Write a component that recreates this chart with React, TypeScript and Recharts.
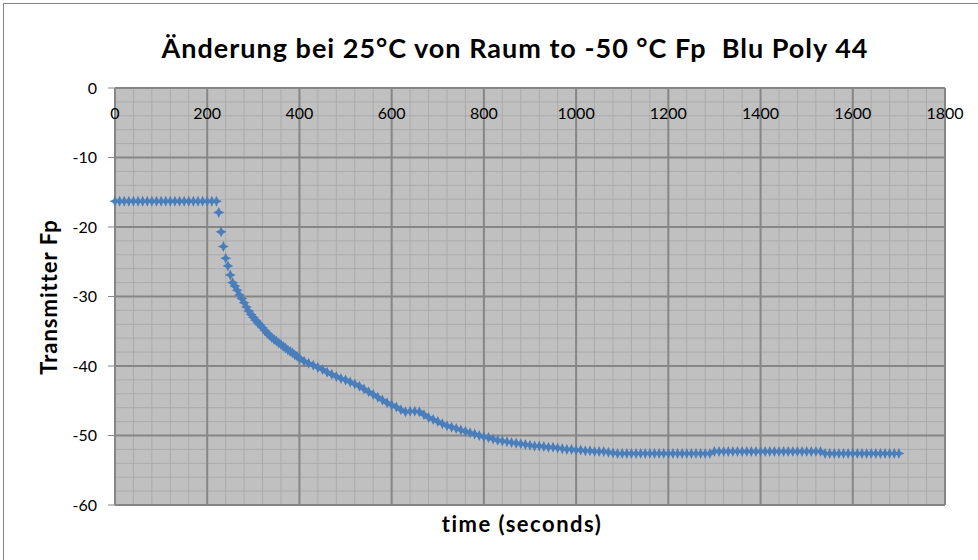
import {
  CartesianGrid,
  ReferenceLine,
  Scatter,
  ScatterChart,
  XAxis,
  YAxis,
} from 'recharts'

// tiempos (s) y lectura del transmisor
const times = [
  0, 10, 20, 30, 40, 50, 60, 70, 80, 90, 100, 110, 120, 130, 140, 150, 160,
  170, 180, 190, 200, 210, 220, 225, 230, 235, 240, 245, 250, 255, 260, 265,
  270, 275, 280, 285, 290, 295, 300, 305, 310, 315, 320, 325, 330, 335, 340,
  345, 350, 355, 360, 365, 370, 375, 380, 385, 390, 395, 400, 410, 420, 430,
  440, 450, 460, 470, 480, 490, 500, 510, 520, 530, 540, 550, 560, 570, 580,
  590, 600, 610, 620, 630, 640, 650, 660, 670, 680, 690, 700, 710, 720, 730,
  740, 750, 760, 770, 780, 790, 800, 810, 820, 830, 840, 850, 860, 870, 880,
  890, 900, 910, 920, 930, 940, 950, 960, 970, 980, 990, 1000, 1010, 1020,
  1030, 1040, 1050, 1060, 1070, 1080, 1090, 1100, 1110, 1120, 1130, 1140,
  1150, 1160, 1170, 1180, 1190, 1200, 1210, 1220, 1230, 1240, 1250, 1260,
  1270, 1280, 1290, 1300, 1310, 1320, 1330, 1340, 1350, 1360, 1370, 1380,
  1390, 1400, 1410, 1420, 1430, 1440, 1450, 1460, 1470, 1480, 1490, 1500,
  1510, 1520, 1530, 1540, 1550, 1560, 1570, 1580, 1590, 1600, 1610, 1620,
  1630, 1640, 1650, 1660, 1670, 1680, 1690, 1700,
]

const fp = [
  -16.3, -16.3, -16.3, -16.3, -16.3, -16.3, -16.3, -16.3, -16.3, -16.3, -16.3,
  -16.3, -16.3, -16.3, -16.3, -16.3, -16.3, -16.3, -16.3, -16.3, -16.3, -16.3,
  -16.3, -17.9, -20.7, -22.8, -24.5, -25.6, -26.9, -28.0, -28.5, -29.1, -29.8,
  -30.3, -30.9, -31.5, -32.1, -32.6, -33.0, -33.4, -33.8, -34.1, -34.5, -34.9,
  -35.3, -35.6, -35.9, -36.2, -36.4, -36.7, -36.9, -37.2, -37.4, -37.7, -37.9,
  -38.1, -38.4, -38.6, -38.9, -39.3, -39.6, -39.9, -40.2, -40.5, -40.9, -41.2,
  -41.5, -41.8, -42.0, -42.3, -42.6, -42.9, -43.3, -43.7, -44.1, -44.5, -44.9,
  -45.3, -45.6, -45.9, -46.3, -46.6, -46.5, -46.5, -46.6, -47.0, -47.4, -47.7,
  -48.0, -48.3, -48.6, -48.8, -49.0, -49.2, -49.4, -49.6, -49.8, -50.0, -50.2,
  -50.3, -50.5, -50.7, -50.8, -50.9, -51.0, -51.1, -51.2, -51.3, -51.4, -51.5,
  -51.5, -51.6, -51.7, -51.7, -51.8, -51.9, -52.0, -52.0, -52.1, -52.1, -52.2,
  -52.2, -52.3, -52.3, -52.3, -52.4, -52.5, -52.6, -52.6, -52.6, -52.6, -52.6,
  -52.6, -52.6, -52.6, -52.6, -52.6, -52.6, -52.6, -52.6, -52.6, -52.6, -52.6,
  -52.6, -52.6, -52.6, -52.6, -52.6, -52.3, -52.3, -52.3, -52.3, -52.3, -52.3,
  -52.3, -52.3, -52.3, -52.3, -52.3, -52.3, -52.3, -52.3, -52.3, -52.3, -52.3,
  -52.3, -52.3, -52.3, -52.3, -52.3, -52.3, -52.3, -52.6, -52.6, -52.6, -52.6,
  -52.6, -52.6, -52.6, -52.6, -52.6, -52.6, -52.6, -52.6, -52.6, -52.6, -52.6,
  -52.6, -52.6,
]

const xTicks = [0, 200, 400, 600, 800, 1000, 1200, 1400, 1600, 1800]
const yTicks = [0, -10, -20, -30, -40, -50, -60]
// rejilla secundaria (cada 40 s / cada 2 unidades), sin las principales
const xMinor = Array.from({ length: 46 }, (_, i) => i * 40).filter((v) => v % 200 !== 0)
const yMinor = Array.from({ length: 31 }, (_, i) => -i * 2).filter((v) => v % 10 !== 0)

const data = times.map((t, i) => ({ t, v: fp[i] }))

const FONT = 'Lato, "Open Sans", sans-serif'
const BLUE = '#4A7EBB'
const MINOR = '#ABABAB'

const Star = (p: any) => {
  const { cx, cy } = p
  const a = 5.5
  const b = 1.8
  return (
    <path
      d={`M${cx - a},${cy} L${cx - b},${cy - b} L${cx},${cy - a} L${cx + b},${cy - b} L${cx + a},${cy} L${cx + b},${cy + b} L${cx},${cy + a} L${cx - b},${cy + b} Z`}
      fill={BLUE}
    />
  )
}

export default function App() {
  return (
    <div
      style={{
        position: 'fixed',
        left: 0,
        top: 0,
        width: 978,
        height: 560,
        overflow: 'hidden',
        background: '#fff',
        fontFamily: FONT,
      }}
    >
      <div
        style={{
          position: 'absolute',
          left: 3,
          top: 3,
          width: 1100,
          height: 700,
          border: '1px solid #868686',
        }}
      />
      <div
        style={{
          position: 'absolute',
          left: 0,
          width: 1030,
          top: 31,
          textAlign: 'center',
          fontSize: 27,
          letterSpacing: 1,
          fontWeight: 700,
          whiteSpace: 'pre',
          color: '#000',
        }}
      >
        {'Änderung bei 25°C von Raum to -50 °C Fp  Blu Poly 44'}
      </div>
      <div
        style={{
          position: 'absolute',
          left: 48,
          top: 297,
          transform: 'translate(-50%, -50%) rotate(-90deg)',
          fontSize: 22,
          letterSpacing: 1,
          fontWeight: 700,
          whiteSpace: 'pre',
        }}
      >
        Transmitter Fp
      </div>
      <div
        style={{
          position: 'absolute',
          left: 0,
          width: 1044,
          top: 510,
          textAlign: 'center',
          fontSize: 22,
          letterSpacing: 1.5,
          fontWeight: 700,
          whiteSpace: 'pre',
        }}
      >
        time (seconds)
      </div>
      <div style={{ position: 'absolute', left: 0, top: 0 }}>
        <ScatterChart
          width={978}
          height={560}
          margin={{ top: 88, right: 33, bottom: 55, left: 55 }}
        >
          <CartesianGrid stroke="none" fill="#C0C0C0" fillOpacity={1} />
          {xMinor.map((v) => (
            <ReferenceLine key={`x${v}`} x={v} stroke={MINOR} strokeWidth={1} />
          ))}
          {yMinor.map((v) => (
            <ReferenceLine key={`y${v}`} y={v} stroke={MINOR} strokeWidth={1} />
          ))}
          <XAxis
            type="number"
            dataKey="t"
            orientation="top"
            mirror
            domain={[0, 1800]}
            ticks={xTicks}
            interval={0}
            tickLine={false}
            tickSize={0}
            tickMargin={20}
            axisLine={{ stroke: '#868686' }}
            tick={{ fontSize: 16, fill: '#000', fontFamily: FONT }}
          />
          <YAxis
            type="number"
            dataKey="v"
            domain={[-60, 0]}
            ticks={yTicks}
            interval={0}
            width={60}
            tickSize={7}
            tickMargin={11}
            axisLine={{ stroke: '#868686' }}
            tickLine={{ stroke: '#868686' }}
            tick={{ fontSize: 16, fill: '#000', fontFamily: FONT }}
          />
          {xTicks.map((v) => (
            <ReferenceLine key={`X${v}`} x={v} stroke="#868686" strokeWidth={2} />
          ))}
          {yTicks.map((v) => (
            <ReferenceLine key={`Y${v}`} y={v} stroke="#868686" strokeWidth={2} />
          ))}
          <Scatter data={data} shape={Star} isAnimationActive={false} />
        </ScatterChart>
      </div>
    </div>
  )
}
